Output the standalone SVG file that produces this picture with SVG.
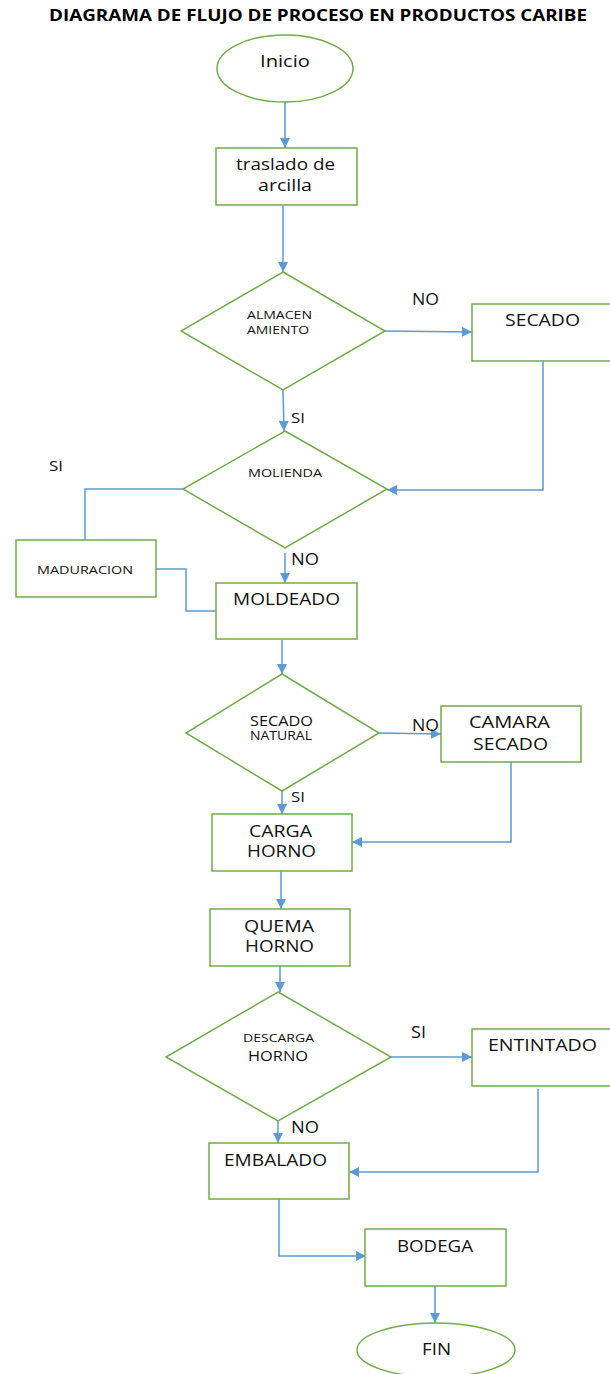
<svg xmlns="http://www.w3.org/2000/svg" width="610" height="1374" viewBox="0 0 610 1374">
  <style>
    .shape { fill: #ffffff; stroke: #70ad47; stroke-width: 1.5; }
    .conn { fill: none; stroke: #5b9bd5; stroke-width: 1.5; }
    .t { font-family: "Open Sans", "Liberation Sans", sans-serif; fill: #111111; text-anchor: start; }
    .title { font-family: "Open Sans", "Liberation Sans", sans-serif; font-weight: bold; fill: #000000; }
  </style>
  <defs>
    <marker id="arrow" markerUnits="userSpaceOnUse" markerWidth="10" markerHeight="10" refX="10" refY="5" orient="auto">
      <path d="M0,0 L10,5 L0,10 z" fill="#5b9bd5"/>
    </marker>
  </defs>
  <rect width="610" height="1374" fill="#ffffff"/>

  <text class="title" x="49" y="21" font-size="15.5" textLength="538" lengthAdjust="spacingAndGlyphs">DIAGRAMA DE FLUJO DE PROCESO EN PRODUCTOS CARIBE</text>

  <!-- connectors -->
  <g id="connectors">
    <path class="conn" d="M285,102 L285,148" marker-end="url(#arrow)"/>
    <path class="conn" d="M283,205 L283,272" marker-end="url(#arrow)"/>
    <path class="conn" d="M385,331 L472,332" marker-end="url(#arrow)"/>
    <path class="conn" d="M543,361 L543,490 L387,490" marker-end="url(#arrow)"/>
    <path class="conn" d="M283,390 L284,431" marker-end="url(#arrow)"/>
    <path class="conn" d="M183,489 L85,489 L85,540"/>
    <path class="conn" d="M156,569 L186,569 L186,611 L216,611"/>
    <path class="conn" d="M285,553 L285,583" marker-end="url(#arrow)"/>
    <path class="conn" d="M282,640 L282,674" marker-end="url(#arrow)"/>
    <path class="conn" d="M379,733 L441,734" marker-end="url(#arrow)"/>
    <path class="conn" d="M511,762 L511,842 L352,842" marker-end="url(#arrow)"/>
    <path class="conn" d="M282,791 L282,814" marker-end="url(#arrow)"/>
    <path class="conn" d="M281,871 L281,909" marker-end="url(#arrow)"/>
    <path class="conn" d="M280,966 L280,992" marker-end="url(#arrow)"/>
    <path class="conn" d="M391,1057 L472,1057" marker-end="url(#arrow)"/>
    <path class="conn" d="M538,1089 L538,1172 L349,1172" marker-end="url(#arrow)"/>
    <path class="conn" d="M278,1121 L278,1143" marker-end="url(#arrow)"/>
    <path class="conn" d="M279,1199 L279,1256 L366,1256" marker-end="url(#arrow)"/>
    <path class="conn" d="M435,1286 L435,1323" marker-end="url(#arrow)"/>
  </g>

  <!-- branch labels -->
  <g id="labels">
    <text class="t" x="412" y="305" font-size="16" textLength="27" lengthAdjust="spacingAndGlyphs">NO</text>
    <text class="t" x="291" y="423" font-size="15" textLength="14" lengthAdjust="spacingAndGlyphs">SI</text>
    <text class="t" x="49" y="471" font-size="14.5" textLength="14" lengthAdjust="spacingAndGlyphs">SI</text>
    <text class="t" x="291" y="565" font-size="15.5" textLength="28" lengthAdjust="spacingAndGlyphs">NO</text>
    <text class="t" x="412" y="731" font-size="16" textLength="27" lengthAdjust="spacingAndGlyphs">NO</text>
    <text class="t" x="291" y="802" font-size="14.5" textLength="14" lengthAdjust="spacingAndGlyphs">SI</text>
    <text class="t" x="411" y="1038" font-size="16" textLength="15" lengthAdjust="spacingAndGlyphs">SI</text>
    <text class="t" x="291" y="1133" font-size="15.5" textLength="28" lengthAdjust="spacingAndGlyphs">NO</text>
  </g>

  <g id="inicio">
    <ellipse class="shape" cx="285" cy="68.5" rx="68" ry="33.5"/>
    <text class="t" x="260" y="67" font-size="16.5" textLength="50" lengthAdjust="spacingAndGlyphs">Inicio</text>
  </g>

  <g id="traslado">
    <rect class="shape" x="216" y="148" width="141" height="57"/>
    <text class="t" x="236" y="170" font-size="16" textLength="99" lengthAdjust="spacingAndGlyphs">traslado de</text>
    <text class="t" x="258" y="191" font-size="16" textLength="54" lengthAdjust="spacingAndGlyphs">arcilla</text>
  </g>

  <g id="almacenamiento">
    <polygon class="shape" points="283,272 385,331 283,390 181,331"/>
    <text class="t" x="247" y="318.5" font-size="10.5" textLength="65" lengthAdjust="spacingAndGlyphs">ALMACEN</text>
    <text class="t" x="247" y="334" font-size="10.5" textLength="62" lengthAdjust="spacingAndGlyphs">AMIENTO</text>
  </g>

  <g id="secado">
    <rect class="shape" x="472" y="304" width="150" height="57"/>
    <text class="t" x="505" y="326" font-size="15.5" textLength="75" lengthAdjust="spacingAndGlyphs">SECADO</text>
  </g>

  <g id="molienda">
    <polygon class="shape" points="285,431 387,489 285,548 183,489"/>
    <text class="t" x="248" y="477" font-size="10.5" textLength="74" lengthAdjust="spacingAndGlyphs">MOLIENDA</text>
  </g>

  <g id="maduracion">
    <rect class="shape" x="16" y="540" width="140" height="57"/>
    <text class="t" x="37" y="574" font-size="11.5" textLength="96" lengthAdjust="spacingAndGlyphs">MADURACION</text>
  </g>

  <g id="moldeado">
    <rect class="shape" x="216" y="583" width="141" height="56"/>
    <text class="t" x="233" y="605" font-size="16" textLength="107" lengthAdjust="spacingAndGlyphs">MOLDEADO</text>
  </g>

  <g id="secado-natural">
    <polygon class="shape" points="282,674 379,733 282,791 186,733"/>
    <text class="t" x="250" y="725.5" font-size="14" textLength="63" lengthAdjust="spacingAndGlyphs">SECADO</text>
    <text class="t" x="250" y="740" font-size="12" textLength="62" lengthAdjust="spacingAndGlyphs">NATURAL</text>
  </g>

  <g id="camara-secado">
    <rect class="shape" x="441" y="706" width="140" height="56"/>
    <text class="t" x="469" y="728" font-size="16" textLength="81" lengthAdjust="spacingAndGlyphs">CAMARA</text>
    <text class="t" x="473" y="750" font-size="16" textLength="75" lengthAdjust="spacingAndGlyphs">SECADO</text>
  </g>

  <g id="carga-horno">
    <rect class="shape" x="212" y="814" width="140" height="57"/>
    <text class="t" x="249" y="837" font-size="15.5" textLength="63" lengthAdjust="spacingAndGlyphs">CARGA</text>
    <text class="t" x="247" y="857" font-size="15.5" textLength="69" lengthAdjust="spacingAndGlyphs">HORNO</text>
  </g>

  <g id="quema-horno">
    <rect class="shape" x="210" y="909" width="140" height="57"/>
    <text class="t" x="244" y="932" font-size="16" textLength="70" lengthAdjust="spacingAndGlyphs">QUEMA</text>
    <text class="t" x="245" y="952" font-size="16" textLength="69" lengthAdjust="spacingAndGlyphs">HORNO</text>
  </g>

  <g id="descarga-horno">
    <polygon class="shape" points="278,992 391,1057 278,1121 166,1057"/>
    <text class="t" x="243" y="1042" font-size="11.5" textLength="71" lengthAdjust="spacingAndGlyphs">DESCARGA</text>
    <text class="t" x="248" y="1061" font-size="14" textLength="60" lengthAdjust="spacingAndGlyphs">HORNO</text>
  </g>

  <g id="entintado">
    <rect class="shape" x="472" y="1029" width="150" height="57"/>
    <text class="t" x="488" y="1051" font-size="16" textLength="109" lengthAdjust="spacingAndGlyphs">ENTINTADO</text>
  </g>

  <g id="embalado">
    <rect class="shape" x="209" y="1143" width="140" height="56"/>
    <text class="t" x="224" y="1166" font-size="16" textLength="103" lengthAdjust="spacingAndGlyphs">EMBALADO</text>
  </g>

  <g id="bodega">
    <rect class="shape" x="365" y="1229" width="141" height="57"/>
    <text class="t" x="397" y="1252" font-size="15.5" textLength="76" lengthAdjust="spacingAndGlyphs">BODEGA</text>
  </g>

  <g id="fin">
    <ellipse class="shape" cx="436" cy="1350" rx="79" ry="27"/>
    <text class="t" x="422" y="1355" font-size="15.5" textLength="29" lengthAdjust="spacingAndGlyphs">FIN</text>
  </g>
</svg>
